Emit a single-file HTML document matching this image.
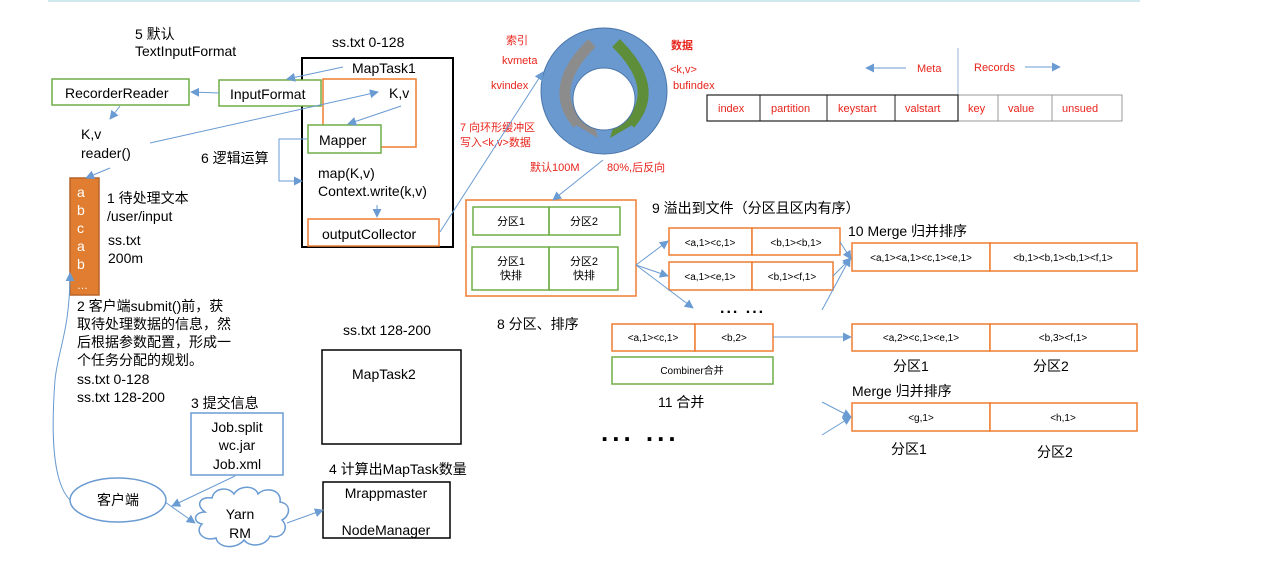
<!DOCTYPE html>
<html><head><meta charset="utf-8"><style>
html,body{margin:0;padding:0;background:#fff;}
svg{display:block;font-family:"Liberation Sans","Noto Sans CJK SC",sans-serif;}
.t{font-size:14px;fill:#000;}
.r{font-size:11px;fill:#e8241c;}
.s{font-size:10px;fill:#000;}
.ln{stroke:#6a9bd2;stroke-width:1;fill:none;}
</style></head><body>
<svg width="1274" height="566" viewBox="0 0 1274 566" xmlns="http://www.w3.org/2000/svg">
<defs>
<marker id="a" viewBox="0 0 10 10" refX="9" refY="5" markerWidth="9" markerHeight="9" orient="auto" markerUnits="userSpaceOnUse"><path d="M0,0 L10,5 L0,10 z" fill="#6a9bd2"/></marker>
</defs>
<rect x="48" y="0" width="1092" height="2" fill="#cfe9ee"/>

<text class="t" x="135" y="39">5 默认</text>
<text class="t" x="135" y="56">TextInputFormat</text>
<text class="t" x="332" y="47">ss.txt 0-128</text>

<rect x="302" y="58" width="151" height="189" fill="none" stroke="#000" stroke-width="2"/>
<text class="t" x="352" y="73">MapTask1</text>
<rect x="323" y="79" width="93" height="68" fill="none" stroke="#ed7d31" stroke-width="1.5"/>
<text class="t" x="389" y="98">K,v</text>
<rect x="52" y="79" width="137" height="26" fill="#fff" stroke="#70ad47" stroke-width="1.5"/>
<text class="t" x="65" y="98">RecorderReader</text>
<rect x="219" y="80" width="102" height="26" fill="#fff" stroke="#70ad47" stroke-width="1.5"/>
<text class="t" x="230" y="99">InputFormat</text>
<rect x="308" y="125" width="73" height="28" fill="#fff" stroke="#70ad47" stroke-width="1.5"/>
<text class="t" x="319" y="145">Mapper</text>
<text class="t" x="318" y="178">map(K,v)</text>
<text class="t" x="318" y="196">Context.write(k,v)</text>
<rect x="308" y="219" width="131" height="27" fill="#fff" stroke="#ed7d31" stroke-width="1.5"/>
<text class="t" x="322" y="239">outputCollector</text>
<text class="t" x="81" y="139">K,v</text>
<text class="t" x="81" y="158">reader()</text>
<text class="t" x="201" y="163">6 逻辑运算</text>

<rect x="70" y="178" width="29" height="117" fill="#e07d31" stroke="#b8642a" stroke-width="1.5"/>
<g fill="#fff" font-size="14">
<text x="77" y="197">a</text><text x="77" y="215">b</text><text x="77" y="233">c</text><text x="77" y="251">a</text><text x="77" y="269">b</text><text x="77" y="289" font-size="11">…</text>
</g>
<text class="t" x="107" y="203">1 待处理文本</text>
<text class="t" x="107" y="221">/user/input</text>
<text class="t" x="108" y="245">ss.txt</text>
<text class="t" x="108" y="263">200m</text>

<text class="t" x="77" y="311">2 客户端submit()前，获</text>
<text class="t" x="77" y="329">取待处理数据的信息，然</text>
<text class="t" x="77" y="347">后根据参数配置，形成一</text>
<text class="t" x="77" y="365">个任务分配的规划。</text>
<text class="t" x="77" y="384">ss.txt  0-128</text>
<text class="t" x="77" y="402">ss.txt  128-200</text>

<text class="t" x="343" y="335">ss.txt 128-200</text>
<rect x="322" y="350" width="139" height="94" fill="none" stroke="#000" stroke-width="1.5"/>
<text class="t" x="352" y="379">MapTask2</text>

<text class="t" x="191" y="408">3 提交信息</text>
<rect x="191" y="413" width="92" height="62" fill="none" stroke="#6a9bd2" stroke-width="1.5"/>
<text class="t" x="237" y="432" text-anchor="middle">Job.split</text>
<text class="t" x="237" y="450" text-anchor="middle">wc.jar</text>
<text class="t" x="237" y="469" text-anchor="middle">Job.xml</text>
<text class="t" x="329" y="474">4 计算出MapTask数量</text>
<rect x="323" y="482" width="127" height="56" fill="none" stroke="#000" stroke-width="1.5"/>
<text class="t" x="386" y="498" text-anchor="middle">Mrappmaster</text>
<text class="t" x="386" y="535" text-anchor="middle">NodeManager</text>

<ellipse cx="118" cy="500" rx="48" ry="22" fill="#fff" stroke="#6a9bd2" stroke-width="1.5"/>
<text class="t" x="118" y="505" text-anchor="middle">客户端</text>
<path d="M205,512 C195,505 200,496 212,498 C214,488 228,486 234,494 C240,484 256,486 258,494 C266,486 282,490 280,502 C292,504 290,516 282,520 C290,528 282,540 270,536 C266,546 250,548 244,540 C236,550 218,548 216,538 C204,542 194,532 202,524 C192,522 194,512 205,512 z" fill="#fff" stroke="#6a9bd2" stroke-width="1.5"/>
<text class="t" x="240" y="519" text-anchor="middle">Yarn</text>
<text class="t" x="240" y="538" text-anchor="middle">RM</text>

<!-- ring -->
<circle cx="604" cy="91" r="63" fill="#6a99d0" stroke="#4a76a8" stroke-width="1"/>
<path d="M592,43 Q546,88 578,124" stroke="#8c8c8c" stroke-width="11" fill="none"/>
<path d="M569,121 L598,138 L589,107 z" fill="#8c8c8c"/>
<path d="M616,43 Q662,88 630,124" stroke="#5e8e3a" stroke-width="11" fill="none"/>
<path d="M639,121 L610,138 L619,107 z" fill="#5e8e3a"/>
<circle cx="604" cy="99" r="31" fill="#fff" stroke="#4a76a8" stroke-width="1"/>
<text class="r" x="506" y="44" font-size="12">索引</text>
<text class="r" x="502" y="64">kvmeta</text>
<text class="r" x="491" y="89">kvindex</text>
<text class="r" x="671" y="49" font-weight="bold" font-size="12">数据</text>
<text class="r" x="670" y="73">&lt;k,v&gt;</text>
<text class="r" x="673" y="89">bufindex</text>
<text class="r" x="460" y="131">7 向环形缓冲区</text>
<text class="r" x="460" y="146">写入&lt;k,v&gt;数据</text>
<text class="r" x="530" y="171">默认100M</text>
<text class="r" x="607" y="171">80%,后反向</text>

<line x1="906" y1="68" x2="866" y2="68" class="ln" marker-end="url(#a)" stroke-width="1.5"/>
<text class="r" x="917" y="72">Meta</text>
<line x1="958" y1="48" x2="958" y2="95" stroke="#9ab6d8" stroke-width="1"/>
<text class="r" x="974" y="71">Records</text>
<line x1="1025" y1="67" x2="1060" y2="67" class="ln" marker-end="url(#a)" stroke-width="1.5"/>
<rect x="958" y="95" width="164" height="26" fill="none" stroke="#999" stroke-width="1"/>
<line x1="998" y1="95" x2="998" y2="121" stroke="#999"/>
<line x1="1052" y1="95" x2="1052" y2="121" stroke="#999"/>
<rect x="707" y="95" width="251" height="26" fill="none" stroke="#222" stroke-width="1.2"/>
<line x1="760" y1="95" x2="760" y2="121" stroke="#222"/>
<line x1="827" y1="95" x2="827" y2="121" stroke="#222"/>
<line x1="895" y1="95" x2="895" y2="121" stroke="#222"/>
<text class="r" x="718" y="112">index</text>
<text class="r" x="771" y="112">partition</text>
<text class="r" x="838" y="112">keystart</text>
<text class="r" x="905" y="112">valstart</text>
<text class="r" x="968" y="112">key</text>
<text class="r" x="1008" y="112">value</text>
<text class="r" x="1062" y="112">unsued</text>

<rect x="466" y="200" width="170" height="96" fill="none" stroke="#ed7d31" stroke-width="1.5"/>
<rect x="473" y="207" width="76" height="28" fill="none" stroke="#70ad47" stroke-width="1.5"/>
<rect x="549" y="207" width="71" height="28" fill="none" stroke="#70ad47" stroke-width="1.5"/>
<rect x="472" y="247" width="77" height="43" fill="none" stroke="#70ad47" stroke-width="1.5"/>
<rect x="549" y="247" width="69" height="43" fill="none" stroke="#70ad47" stroke-width="1.5"/>
<g font-size="11" text-anchor="middle">
<text x="511" y="225">分区1</text><text x="584" y="225">分区2</text>
<text x="511" y="265">分区1</text><text x="511" y="279">快排</text>
<text x="584" y="265">分区2</text><text x="584" y="279">快排</text>
</g>
<text class="t" x="497" y="329">8 分区、排序</text>
<text class="t" x="652" y="213">9 溢出到文件（分区且区内有序）</text>

<g fill="#fff" stroke="#ed7d31" stroke-width="1.5">
<rect x="669" y="228" width="83" height="27"/><rect x="752" y="228" width="88" height="27"/>
<rect x="669" y="262" width="83" height="28"/><rect x="752" y="262" width="81" height="28"/>
<rect x="852" y="243" width="138" height="28"/><rect x="990" y="243" width="147" height="28"/>
<rect x="612" y="324" width="83" height="27"/><rect x="695" y="324" width="78" height="27"/>
<rect x="852" y="324" width="138" height="27"/><rect x="990" y="324" width="147" height="27"/>
<rect x="852" y="403" width="138" height="28"/><rect x="990" y="403" width="147" height="28"/>
</g>
<rect x="612" y="357" width="161" height="27" fill="#fff" stroke="#70ad47" stroke-width="1.5"/>
<g class="s" text-anchor="middle" font-size="10">
<text x="710" y="246">&lt;a,1&gt;&lt;c,1&gt;</text><text x="796" y="246">&lt;b,1&gt;&lt;b,1&gt;</text>
<text x="710" y="280">&lt;a,1&gt;&lt;e,1&gt;</text><text x="792" y="280">&lt;b,1&gt;&lt;f,1&gt;</text>
<text x="921" y="261">&lt;a,1&gt;&lt;a,1&gt;&lt;c,1&gt;&lt;e,1&gt;</text><text x="1063" y="261">&lt;b,1&gt;&lt;b,1&gt;&lt;b,1&gt;&lt;f,1&gt;</text>
<text x="653" y="341">&lt;a,1&gt;&lt;c,1&gt;</text><text x="734" y="341">&lt;b,2&gt;</text>
<text x="692" y="374">Combiner合并</text>
<text x="921" y="341">&lt;a,2&gt;&lt;c,1&gt;&lt;e,1&gt;</text><text x="1063" y="341">&lt;b,3&gt;&lt;f,1&gt;</text>
<text x="921" y="421">&lt;g,1&gt;</text><text x="1063" y="421">&lt;h,1&gt;</text>
</g>
<text class="t" x="848" y="236">10 Merge 归并排序</text>
<text x="720" y="313" font-size="16" font-weight="bold" letter-spacing="2">... ...</text>
<text class="t" x="658" y="407">11 合并</text>
<text class="t" x="893" y="371">分区1</text>
<text class="t" x="1033" y="371">分区2</text>
<text class="t" x="852" y="396">Merge 归并排序</text>
<text class="t" x="891" y="454">分区1</text>
<text class="t" x="1037" y="457">分区2</text>
<text x="601" y="441" font-size="26" font-weight="bold" letter-spacing="4">... ...</text>

<line x1="343" y1="67" x2="287" y2="79" class="ln" marker-end="url(#a)"/>
<line x1="219" y1="93" x2="191" y2="92" class="ln" marker-end="url(#a)"/>
<line x1="120" y1="106" x2="110" y2="119" class="ln" marker-end="url(#a)"/>
<line x1="150" y1="143" x2="378" y2="92" class="ln" marker-end="url(#a)"/>
<line x1="401" y1="106" x2="348" y2="124" class="ln" marker-end="url(#a)"/>
<polyline points="307,139 279,139 279,181 302,181" class="ln" marker-end="url(#a)"/>
<line x1="377" y1="205" x2="377" y2="217" class="ln" marker-end="url(#a)"/>
<line x1="110" y1="168" x2="86" y2="178" class="ln" marker-end="url(#a)"/>
<line x1="440" y1="232" x2="543" y2="72" class="ln" marker-end="url(#a)"/>
<line x1="603" y1="160" x2="553" y2="200" class="ln" marker-end="url(#a)"/>
<line x1="636" y1="265" x2="668" y2="241" class="ln" marker-end="url(#a)"/>
<line x1="636" y1="265" x2="668" y2="276" class="ln" marker-end="url(#a)"/>
<line x1="636" y1="265" x2="693" y2="308" class="ln" marker-end="url(#a)"/>
<line x1="840" y1="242" x2="851" y2="259" class="ln" marker-end="url(#a)"/>
<line x1="833" y1="276" x2="851" y2="258" class="ln" marker-end="url(#a)"/>
<line x1="822" y1="310" x2="850" y2="258" class="ln" marker-end="url(#a)"/>
<line x1="773" y1="337" x2="851" y2="337" class="ln" marker-end="url(#a)"/>
<line x1="822" y1="402" x2="851" y2="417" class="ln" marker-end="url(#a)"/>
<line x1="822" y1="435" x2="851" y2="417" class="ln" marker-end="url(#a)"/>
<path d="M70,500 C50,480 52,420 55,380 C58,350 70,330 70,273" class="ln" marker-end="url(#a)"/>
<line x1="235" y1="476" x2="172" y2="506" class="ln" marker-end="url(#a)"/>
<line x1="165" y1="502" x2="195" y2="523" class="ln" marker-end="url(#a)"/>
<line x1="287" y1="523" x2="323" y2="510" class="ln" marker-end="url(#a)"/>
</svg>
</body></html>
